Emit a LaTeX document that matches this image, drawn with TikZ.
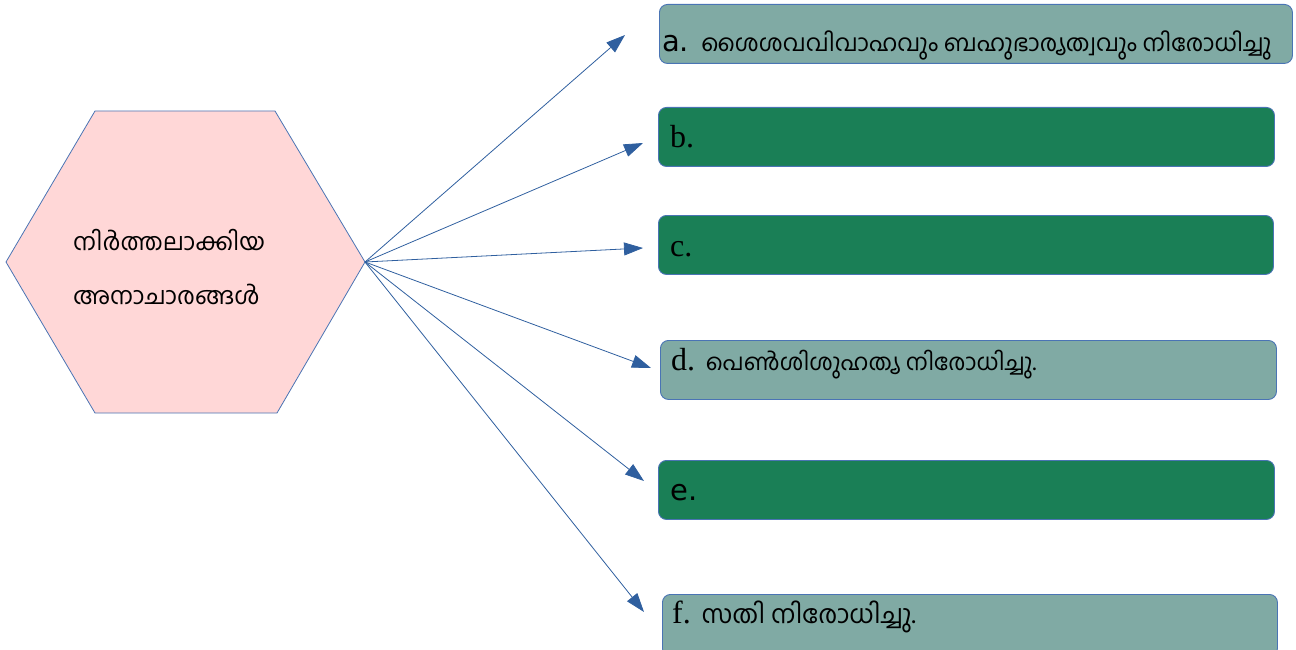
\documentclass[tikz,border=0pt]{standalone}
\usepackage{fontspec}
\setmainfont{Liberation Serif}
\newfontfamily\mlfont[Script=Malayalam]{Hind Kochi}
\newfontfamily\latsans{DejaVu Sans}
\usetikzlibrary{arrows.meta}

\definecolor{hexfill}{HTML}{FFD7D7}
\definecolor{edgeblue}{HTML}{4A74B4}
\definecolor{arrowblue}{HTML}{2F5F9F}
\definecolor{paleteal}{HTML}{80AAA4}
\definecolor{deepgreen}{HTML}{1A7F56}

\tikzset{
  answer/.style={draw=edgeblue, line width=0.9pt, rounded corners=8pt,
    anchor=north west, minimum height=59pt, inner sep=0pt},
  tag/.style={anchor=base west, inner sep=0pt, font=\fontsize{32}{36}\selectfont},
  sanstag/.style={anchor=base west, inner sep=0pt, font=\latsans\fontsize{29}{34}\selectfont},
  hextag/.style={anchor=base west, inner sep=0pt, font=\mlfont\fontsize{24}{28}\selectfont},
  link/.style={draw=arrowblue, line width=0.8pt,
    -{Triangle[length=19pt, width=13pt]}}
}
\newcommand{\ml}[2][24]{{\mlfont\fontsize{#1}{30}\selectfont #2}}

\begin{document}
\begin{tikzpicture}[x=1pt,y=-1pt]
\useasboundingbox (0,0) rectangle (1296,650);

% hexagon on the left
\draw[fill=hexfill, draw=edgeblue, line width=0.8pt]
  (6,262) -- (95,111) -- (275,111) -- (365,262) -- (277,413) -- (95,413) -- cycle;
\coordinate (hub) at (365,262);
\node[hextag] (topic1) at (73,250) {നിർത്തലാക്കിയ};
\node[hextag] (topic2) at (73,304) {അനാചാരങ്ങൾ};

% answer boxes
\node[answer, fill=paleteal, minimum width=633pt] (a) at (659,4) {};
\node[answer, fill=deepgreen, minimum width=616pt] (b) at (658,107) {};
\node[answer, fill=deepgreen, minimum width=615pt] (c) at (658,215) {};
\node[answer, fill=paleteal, minimum width=616pt] (d) at (660,340) {};
\node[answer, fill=deepgreen, minimum width=616pt] (e) at (658,460) {};
\node[answer, fill=paleteal, minimum width=615pt, minimum height=62pt] (f) at (662,594) {};

\node[sanstag] (la) at (662,52) {a. \ml[23.4]{ശൈശവവിവാഹവും ബഹുഭാര്യത്വവും നിരോധിച്ചു}};
\node[tag] (lb) at (670,148) {b.};
\node[tag] (lc) at (670,256) {c.};
\node[tag] (ld) at (671,370) {d. \ml[23]{പെൺശിശുഹത്യ നിരോധിച്ചു.}};
\node[sanstag] (le) at (670,500) {e.};
\node[tag] (lf) at (672,623) {f. \ml[25.5]{സതി നിരോധിച്ചു.}};

% arrow ends
\coordinate (ta) at (625,35);
\coordinate (tb) at (643,143);
\coordinate (tc) at (643,248);
\coordinate (td) at (651,368);
\coordinate (te) at (644,481);
\coordinate (tf) at (644,612);

\foreach \t in {ta,tb,tc,td,te,tf}
  \draw[link] (hub) -- (\t);
\end{tikzpicture}
\end{document}
